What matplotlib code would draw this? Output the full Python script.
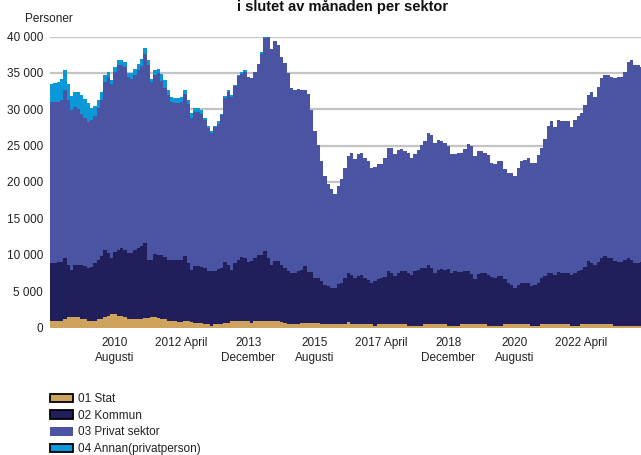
import matplotlib
matplotlib.use("Agg")
import matplotlib.pyplot as plt
from matplotlib.patches import Patch
import numpy as np

plt.rcParams['font.family'] = ['Liberation Sans', 'DejaVu Sans']

# Monthly data, January 2009 onwards (persons)
stat = [870, 870, 870, 870, 1140, 1420, 1420, 1420, 1420, 1140,
        1140, 870, 870, 870, 1140, 1140, 1420, 1550, 1830, 1830,
        1550, 1550, 1420, 1140, 1140, 1140, 1140, 1140, 1280, 1280,
        1420, 1420, 1280, 1140, 1140, 870, 870, 870, 730, 730,
        870, 870, 730, 590, 590, 590, 460, 460, 180, 460,
        460, 460, 590, 590, 870, 870, 870, 870, 870, 870,
        590, 870, 870, 870, 870, 870, 870, 870, 870, 730,
        590, 460, 460, 460, 460, 590, 590, 590, 590, 590,
        590, 460, 460, 460, 460, 460, 460, 460, 460, 730,
        460, 460, 460, 460, 460, 460, 460, 150, 460, 460,
        460, 460, 460, 460, 460, 460, 460, 150, 150, 150,
        150, 150, 460, 460, 460, 460, 460, 460, 460, 150,
        150, 150, 150, 460, 460, 460, 460, 460, 460, 460,
        460, 150, 150, 150, 150, 150, 460, 460, 460, 460,
        460, 460, 460, 460, 150, 150, 150, 460, 460, 460,
        460, 460, 460, 460, 460, 460, 150, 150, 150, 460,
        460, 460, 460, 460, 460, 460, 460, 460, 460, 150,
        150, 150, 150, 150, 150, 150, 150, 150]

kommun = [7930, 7930, 8130, 8080, 8360, 7120, 6430, 7120, 7120, 7400,
          7260, 7260, 7400, 7940, 8080, 8630, 9170, 8630, 7670, 8490,
          9040, 9320, 9170, 9040, 9040, 9450, 9730, 10000, 10270, 7940,
          7800, 8630, 8630, 8770, 8490, 8350, 8350, 8350, 8490, 8490,
          8900, 7940, 7120, 7810, 7810, 7670, 7670, 7260, 7540, 7260,
          7530, 7670, 8360, 7950, 6980, 7940, 8350, 8760, 8630, 8080,
          8500, 8630, 9040, 9040, 9590, 8630, 7670, 8220, 8220, 7810,
          7540, 7260, 6980, 6980, 7260, 7260, 7810, 6990, 6990, 6170,
          6170, 5890, 5340, 5200, 4930, 4930, 5480, 5610, 6300, 6710,
          6710, 6300, 6570, 6710, 6300, 6020, 5610, 6200, 6160, 6300,
          6440, 7260, 6980, 6570, 6980, 7260, 7260, 7290, 7020, 7570,
          7700, 7980, 7670, 8080, 7670, 6980, 7390, 7530, 7390, 7840,
          7290, 7570, 7430, 7120, 7260, 7260, 6850, 6160, 6850, 6980,
          6980, 7020, 6750, 6610, 6880, 6880, 6160, 5610, 5340, 4930,
          5340, 5610, 5610, 5610, 5510, 5650, 5920, 6300, 6570, 6980,
          6980, 6710, 7120, 6980, 6980, 6980, 7020, 7290, 7570, 7390,
          7810, 8630, 8350, 8080, 8490, 9040, 9310, 9040, 9040, 8940,
          8800, 8800, 9070, 9350, 9070, 8660, 8660, 8800]

privat = [22200, 22200, 22000, 22280, 23100, 22690, 22010, 21760, 21460, 20860,
          20460, 20140, 20230, 20320, 21010, 21550, 23150, 24250, 23920, 24790,
          25530, 25250, 25210, 24250, 23970, 24160, 24470, 24800, 25980, 26810,
          24520, 24610, 25070, 23970, 23340, 22700, 21780, 21650, 21650, 21830,
          22280, 21880, 21010, 21230, 21230, 21140, 20370, 19720, 18990, 19810,
          20050, 21050, 22650, 23790, 23840, 24340, 25350, 25260, 25570, 25480,
          25160, 25570, 26300, 27720, 29340, 30400, 29680, 30360, 29680, 28630,
          28220, 27260, 25530, 25160, 25020, 24750, 24200, 24570, 22280, 20230,
          18310, 16530, 15020, 14070, 13650, 12970, 13510, 14340, 15200, 16120,
          16850, 16390, 16810, 16800, 16530, 16400, 15850, 15700, 15850, 15710,
          16390, 16940, 17220, 16810, 16940, 16800, 16530, 16530, 16120, 16120,
          16530, 16940, 17490, 18170, 18350, 17900, 17900, 17630, 17490, 16940,
          16400, 16120, 16390, 16390, 16800, 17480, 17620, 16940, 16940, 16810,
          16530, 16530, 15700, 15710, 15850, 15850, 15160, 15190, 15460, 15450,
          16140, 16830, 16970, 17240, 16970, 16830, 17650, 17920, 18880, 20250,
          20940, 20390, 20940, 20940, 20940, 20940, 20390, 21080, 21340, 21620,
          22300, 22850, 23540, 23130, 24090, 24770, 24910, 25180, 24910, 25180,
          25460, 25460, 25870, 26960, 27520, 27240, 27240, 26830]

annan = [2500, 2650, 2800, 2970, 2740, 2270, 1920, 2030, 2330, 2500,
         2600, 2600, 1730, 1370, 1000, 1010, 920, 640, 550, 690,
         590, 590, 680, 550, 830, 730, 820, 910, 920, 680,
         460, 680, 500, 1010, 1000, 680, 690, 630, 630, 640,
         550, 540, 640, 510, 510, 500, 270, 230, 280, 230,
         320, 220, 180, 270, 230, 140, 130, 180, 270, 0,
         0, 0, 0, 180, 100] + [0] * 113

tick_index = [19, 39, 59, 79, 99, 119, 139, 159]
tick_labels = ["2010\nAugusti", "2012 April", "2013\nDecember", "2015\nAugusti",
               "2017 April", "2018\nDecember", "2020\nAugusti", "2022 April"]
y_ticks = [0, 5000, 10000, 15000, 20000, 25000, 30000, 35000, 40000]
y_tick_labels = ["0", "5 000", "10 000", "15 000", "20 000", "25 000",
                 "30 000", "35 000", "40 000"]
series_names = ["01 Stat", "02 Kommun", "03 Privat sektor", "04 Annan(privatperson)"]
colors = ["#CDA35E", "#201F5B", "#4A54A2", "#0A98D8"]

W, H = 641, 455
fig = plt.figure(figsize=(W / 100, H / 100), dpi=100)
ax = fig.add_axes([50 / W, 1 - 327.5 / H, (W - 50) / W, (327.5 - 36.5) / H])

x = np.arange(len(stat))
bottom = np.zeros(len(stat))
for vals, col in zip([stat, kommun, privat, annan], colors):
    v = np.array(vals, dtype=float)
    ax.bar(x, v, width=1.0, bottom=bottom, align='edge', color=col,
           linewidth=0, antialiased=False, zorder=2)
    bottom += v

ax.set_xlim(0, (W - 50) / 3.333)
ax.set_ylim(0, 40000)
ax.set_yticks(y_ticks)
ax.set_yticklabels(y_tick_labels)
ax.set_xticks(np.array(tick_index) + 0.5)
ax.set_xticklabels(tick_labels, linespacing=1.3)
ax.tick_params(axis='both', length=0, labelsize=8.5, colors='#222222')
ax.tick_params(axis='y', pad=5)
ax.tick_params(axis='x', pad=7)
for s in ax.spines.values():
    s.set_visible(False)
ax.grid(axis='y', color='#C4C4C4', linewidth=1.6, zorder=0)
ax.set_axisbelow(True)
ax.axhline(0, color='#C4C4C4', linewidth=2.2, zorder=1)

fig.text(25 / W, 1 - 22 / H, "Personer", fontsize=8.5, color='#222222',
         ha='left', va='baseline')
fig.text(343 / W, 1 - 11 / H, "i slutet av månaden per sektor", fontsize=10.5,
         fontweight='bold', ha='center', va='baseline', color='#111111')

handles = [
    Patch(facecolor=colors[0], edgecolor='black', linewidth=1.3),
    Patch(facecolor=colors[1], edgecolor='black', linewidth=1.3),
    Patch(facecolor=colors[2], edgecolor='none'),
    Patch(facecolor=colors[3], edgecolor='black', linewidth=1.3),
]
fig.legend(handles, series_names, loc='upper left',
           bbox_to_anchor=(50 / W, 1 - 393 / H), frameon=False,
           fontsize=8.5, handlelength=1.95, handleheight=0.75,
           labelspacing=0.4, handletextpad=0.45, borderpad=0,
           borderaxespad=0, labelcolor='#222222')

fig.savefig("out.png", dpi=100)
